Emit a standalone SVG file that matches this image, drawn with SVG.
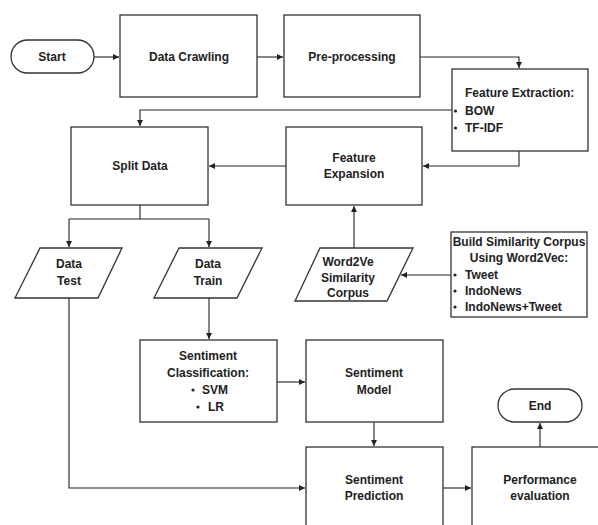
<svg xmlns="http://www.w3.org/2000/svg" width="598" height="525" viewBox="0 0 598 525">
<defs>
<style>
.b{fill:#fff;stroke:#333;stroke-width:1.3}
.c{fill:none;stroke:#222;stroke-width:1.1}
text{font-family:"Liberation Sans",Arial,sans-serif;font-weight:bold;font-size:12px;fill:#222}
.m{text-anchor:middle}
.d{fill:#222}
</style>
<marker id="a" markerUnits="userSpaceOnUse" markerWidth="7" markerHeight="6" refX="6" refY="3" orient="auto">
<path d="M0,0 L6,3 L0,6 z" fill="#222"/>
</marker>
</defs>
<rect width="598" height="525" fill="#fff"/>
<g id="connectors">
<path class="c" d="M94,57 H119" marker-end="url(#a)"/>
<path class="c" d="M257,57 H283" marker-end="url(#a)"/>
<path class="c" d="M420,57 H519 V68" marker-end="url(#a)"/>
<path class="c" d="M452,110 H140 V126" marker-end="url(#a)"/>
<path class="c" d="M519,151 V166 H423" marker-end="url(#a)"/>
<path class="c" d="M286,166 H209" marker-end="url(#a)"/>
<path class="c" d="M140,205 V219 M69,219 H209"/>
<path class="c" d="M69,219 V247" marker-end="url(#a)"/>
<path class="c" d="M209,219 V247" marker-end="url(#a)"/>
<path class="c" d="M354,248 V206" marker-end="url(#a)"/>
<path class="c" d="M451,275 H401" marker-end="url(#a)"/>
<path class="c" d="M209,298 V339" marker-end="url(#a)"/>
<path class="c" d="M69,298 V488 H305" marker-end="url(#a)"/>
<path class="c" d="M277,382 H305" marker-end="url(#a)"/>
<path class="c" d="M374,422 V446" marker-end="url(#a)"/>
<path class="c" d="M443,488 H471" marker-end="url(#a)"/>
<path class="c" d="M540,447 V423" marker-end="url(#a)"/>
</g>
<g id="start">
<rect class="b" x="11" y="40" width="83" height="33" rx="16.5"/>
<text class="m" x="52" y="61">Start</text>
</g>
<g id="data-crawling">
<rect class="b" x="120" y="15" width="137" height="82"/>
<text class="m" x="189" y="61">Data Crawling</text>
</g>
<g id="pre-processing">
<rect class="b" x="284" y="15" width="136" height="82"/>
<text class="m" x="352" y="61">Pre-processing</text>
</g>
<g id="feature-extraction">
<rect class="b" x="452" y="69" width="136" height="82"/>
<text x="465" y="97">Feature Extraction:</text>
<circle class="d" cx="455.5" cy="111" r="1.6"/>
<text x="465" y="115">BOW</text>
<circle class="d" cx="455.5" cy="128" r="1.6"/>
<text x="465" y="132">TF-IDF</text>
</g>
<g id="split-data">
<rect class="b" x="71" y="127" width="137" height="78"/>
<text class="m" x="140" y="170">Split Data</text>
</g>
<g id="feature-expansion">
<rect class="b" x="286" y="127" width="136" height="78"/>
<text class="m" x="354" y="162">Feature</text>
<text class="m" x="354" y="178">Expansion</text>
</g>
<g id="data-test">
<polygon class="b" points="40,248 122,248 98,298 15,298"/>
<text class="m" x="69" y="268">Data</text>
<text class="m" x="69" y="285">Test</text>
</g>
<g id="data-train">
<polygon class="b" points="179,248 262,248 237,298 154,298"/>
<text class="m" x="208" y="268">Data</text>
<text class="m" x="208" y="285">Train</text>
</g>
<g id="word2vec-corpus">
<polygon class="b" points="320,248 413,248 387,301 295,301"/>
<text class="m" x="348" y="266">Word2Ve</text>
<text class="m" x="348" y="281.5">Similarity</text>
<text class="m" x="348" y="297">Corpus</text>
</g>
<g id="build-similarity-corpus">
<rect class="b" x="451" y="232" width="136" height="85"/>
<text class="m" x="519" y="246">Build Similarity Corpus</text>
<text class="m" x="519" y="262">Using Word2Vec:</text>
<circle class="d" cx="455" cy="275" r="1.6"/>
<text x="465" y="279">Tweet</text>
<circle class="d" cx="455" cy="291" r="1.6"/>
<text x="465" y="295">IndoNews</text>
<circle class="d" cx="455" cy="307" r="1.6"/>
<text x="465" y="311">IndoNews+Tweet</text>
</g>
<g id="sentiment-classification">
<rect class="b" x="140" y="340" width="137" height="82"/>
<text class="m" x="208" y="360">Sentiment</text>
<text class="m" x="208" y="377">Classification:</text>
<circle class="d" cx="193" cy="390" r="1.6"/>
<text x="202" y="394">SVM</text>
<circle class="d" cx="198" cy="407" r="1.6"/>
<text x="208" y="411">LR</text>
</g>
<g id="sentiment-model">
<rect class="b" x="306" y="340" width="137" height="82"/>
<text class="m" x="374" y="377">Sentiment</text>
<text class="m" x="374" y="394">Model</text>
</g>
<g id="sentiment-prediction">
<rect class="b" x="306" y="447" width="137" height="90"/>
<text class="m" x="374" y="484">Sentiment</text>
<text class="m" x="374" y="500">Prediction</text>
</g>
<g id="performance-evaluation">
<rect class="b" x="472" y="447" width="140" height="90"/>
<text class="m" x="540" y="484">Performance</text>
<text class="m" x="540" y="500">evaluation</text>
</g>
<g id="end">
<rect class="b" x="498" y="389" width="84" height="33" rx="16.5"/>
<text class="m" x="540" y="410">End</text>
</g>
</svg>
